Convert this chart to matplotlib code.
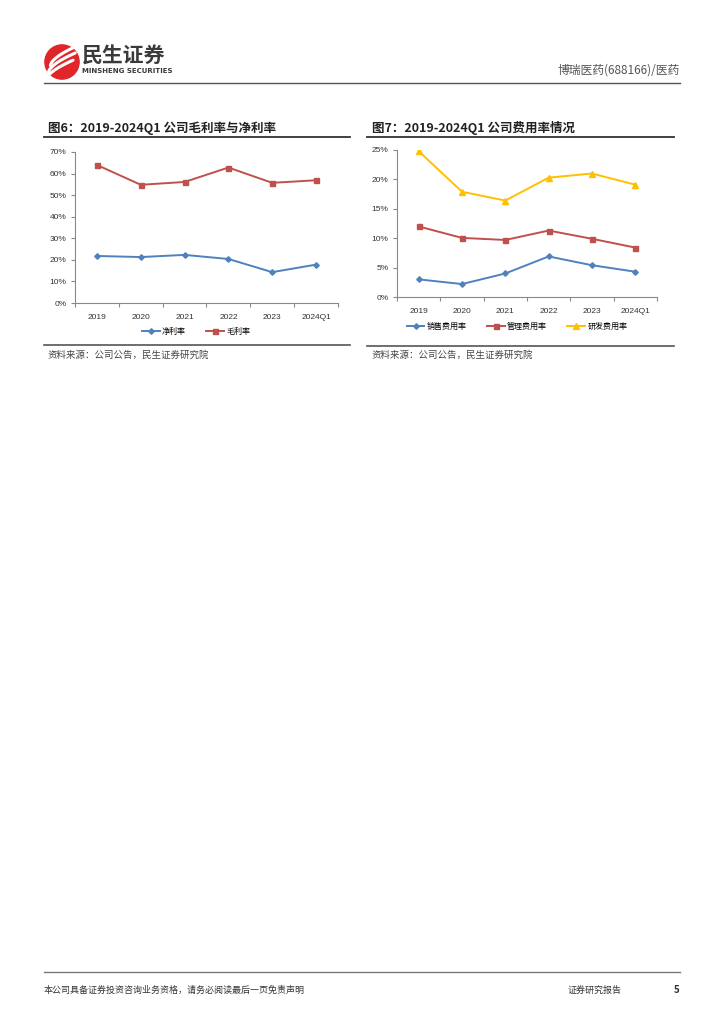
import matplotlib
matplotlib.use("Agg")
import matplotlib.pyplot as plt
from matplotlib.patches import Circle
from matplotlib.lines import Line2D
import numpy as np

plt.rcParams['font.family'] = ['Noto Sans CJK SC', 'DejaVu Sans']

categories = ['2019', '2020', '2021', '2022', '2023', '2024Q1']
net_margin = [21.8, 21.3, 22.3, 20.4, 14.3, 17.8]
gross_margin = [64.0, 54.8, 56.1, 62.8, 55.7, 56.9]
sales_rate = [3.0, 2.2, 4.0, 6.9, 5.4, 4.3]
admin_rate = [12.0, 10.05, 9.7, 11.3, 9.9, 8.4]
rd_rate = [24.8, 17.9, 16.4, 20.3, 21.0, 19.1]

W, H = 724, 1024
fig = plt.figure(figsize=(W / 100, H / 100), dpi=100)
fig.patch.set_facecolor('white')

def fx(x):
    return x / W

def fy(y):
    return 1 - y / H

def hline(x0, x1, y, color, lw):
    fig.add_artist(Line2D([fx(x0), fx(x1)], [fy(y), fy(y)], color=color, lw=lw,
                          transform=fig.transFigure))

# Header
logo = fig.add_axes([fx(44), fy(80), fx(36), 36 / H])
logo.set_xlim(-1, 1); logo.set_ylim(-1, 1); logo.set_aspect('equal'); logo.axis('off')
logo.add_patch(Circle((0, 0), 0.95, color='#E0262A'))
t = np.linspace(0, 1, 30)
for off in [-0.45, -0.05, 0.35]:
    xs = -0.75 + 1.5 * t + off * 0.3
    ys = -0.55 + off + 1.1 * t ** 0.6
    logo.plot(xs, ys, color='white', lw=2.2, solid_capstyle='round')
fig.text(fx(82), fy(56), '民生证券', fontsize=15, fontweight='bold', color='#3a3a3a',
         va='center', ha='left')
fig.text(fx(82), fy(71), 'MINSHENG SECURITIES', fontsize=5, fontweight='bold', color='#3a3a3a',
         va='center', ha='left', family=['DejaVu Sans'])
fig.text(fx(680), fy(70), '博瑞医药(688166)/医药', fontsize=8.5, color='#555555',
         va='center', ha='right')
hline(44, 680, 83, '#555555', 1.0)

# Footer
hline(44, 680, 972, '#777777', 1.0)
fig.text(fx(44), fy(990), '本公司具备证券投资咨询业务资格，请务必阅读最后一页免责声明', fontsize=6.5,
         color='#333333', va='center', ha='left')
fig.text(fx(622), fy(990), '证券研究报告', fontsize=6.5, color='#333333', va='center', ha='right')
fig.text(fx(680), fy(990), '5', fontsize=7, color='#333333', va='center', ha='right', fontweight='bold')

BLUE = '#4F81BD'
RED = '#C0504D'
YEL = '#FFC000'
AXC = '#898989'
TICKFONT = ['Liberation Sans', 'DejaVu Sans']

def setup_axes(ax, ymax, ystep, fmt):
    x = np.arange(len(categories))
    ax.set_xlim(-0.5, len(categories) - 0.5)
    ax.set_ylim(0, ymax)
    ax.set_xticks(x)
    ax.set_xticklabels(categories, fontsize=6, color='#333333', family=TICKFONT)
    ax.set_xticks(np.arange(-0.5, len(categories)), minor=True)
    ax.tick_params(axis='x', which='major', length=0, pad=8)
    ax.tick_params(axis='x', which='minor', length=3, color=AXC, width=0.8, direction='out')
    yt = np.arange(0, ymax + 0.01, ystep)
    ax.set_yticks(yt)
    ax.set_yticklabels([fmt % v for v in yt], fontsize=6, color='#333333', family=TICKFONT)
    ax.tick_params(axis='y', length=3, color=AXC, width=0.8, direction='out', pad=3)
    for s in ['top', 'right']:
        ax.spines[s].set_visible(False)
    for s in ['left', 'bottom']:
        ax.spines[s].set_color(AXC)
        ax.spines[s].set_linewidth(0.8)
    return x

# Chart 6
fig.text(fx(48), fy(128), '图6：2019-2024Q1 公司毛利率与净利率', fontsize=9, fontweight='bold',
         color='#222222', va='center', ha='left')
hline(44, 350, 137, '#333333', 1.3)
ax1 = fig.add_axes([fx(75), fy(303), fx(338 - 75), (303 - 152) / H])
x = setup_axes(ax1, 70, 10, '%d%%')
l1, = ax1.plot(x, net_margin, color=BLUE, lw=1.4, marker='D', ms=2.8, label='净利率')
l2, = ax1.plot(x, gross_margin, color=RED, lw=1.4, marker='s', ms=3.6, label='毛利率')
fig.legend(handles=[l1, l2], loc='center', bbox_to_anchor=(fx(196), fy(331)), ncol=2,
           frameon=False, fontsize=5.8, handlelength=2.2, columnspacing=2.5, handletextpad=0.3)
hline(44, 350, 345, '#555555', 1.2)
fig.text(fx(48), fy(355), '资料来源：公司公告，民生证券研究院', fontsize=6.8, color='#444444',
         va='center', ha='left')

# Chart 7
fig.text(fx(372), fy(128), '图7：2019-2024Q1 公司费用率情况', fontsize=9, fontweight='bold',
         color='#222222', va='center', ha='left')
hline(367, 674, 137, '#333333', 1.3)
ax2 = fig.add_axes([fx(397), fy(297), fx(657 - 397), (297 - 150) / H])
x = setup_axes(ax2, 25, 5, '%d%%')
m1, = ax2.plot(x, sales_rate, color=BLUE, lw=1.4, marker='D', ms=2.8, label='销售费用率')
m2, = ax2.plot(x, admin_rate, color=RED, lw=1.4, marker='s', ms=3.6, label='管理费用率')
m3, = ax2.plot(x, rd_rate, color=YEL, lw=1.4, marker='^', ms=3.8, label='研发费用率')
fig.legend(handles=[m1, m2, m3], loc='center', bbox_to_anchor=(fx(517), fy(326)), ncol=3,
           frameon=False, fontsize=5.8, handlelength=2.2, columnspacing=2.5, handletextpad=0.3)
hline(367, 674, 346, '#555555', 1.2)
fig.text(fx(372), fy(355), '资料来源：公司公告，民生证券研究院', fontsize=6.8, color='#444444',
         va='center', ha='left')

fig.savefig('out.png', dpi=100, facecolor='white')
